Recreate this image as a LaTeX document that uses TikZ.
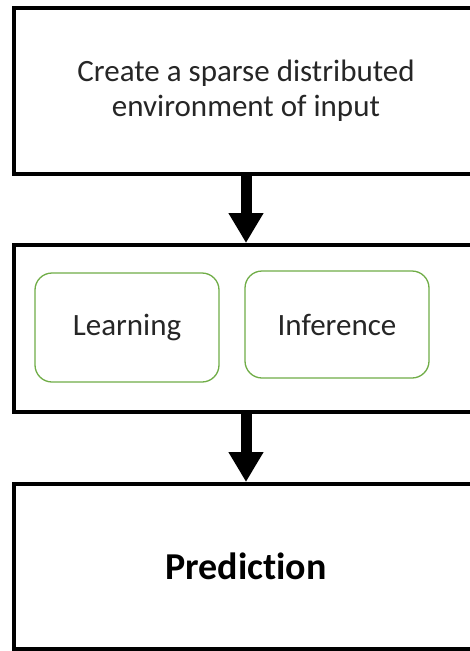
\documentclass[tikz,border=0pt]{standalone}
\usepackage{fontspec}
\setmainfont[Ligatures=NoCommon]{Carlito}
\usetikzlibrary{arrows.meta}
\definecolor{officegreen}{HTML}{70AD47}
\definecolor{textgray}{HTML}{262626}
\tikzset{
  bigbox/.style={draw=black, line width=4pt, minimum width=464pt, inner sep=0pt, align=center, text=textgray},
  subbox/.style={draw=officegreen, line width=1.3pt, rounded corners=17pt, minimum width=184pt, inner sep=0pt, text=textgray},
  flowarrow/.style={line width=11pt, -{Triangle[width=33pt,length=30pt]}}
}
\begin{document}
\begin{tikzpicture}[x=1pt,y=-1pt]
\useasboundingbox (0,0) rectangle (470,651);
\clip (0,0) rectangle (470,651);
\fill[white] (0,0) rectangle (470,651);
\node[bigbox, minimum height=166.5pt, font=\fontsize{31}{35}\selectfont] (b1) at (246,90.75) {Create a sparse distributed\\environment of input};
\node[bigbox, minimum height=167pt] (b2) at (246,328.5) {};
\node[bigbox, minimum height=164.5pt, font=\fontsize{38}{42}\selectfont\bfseries, text=black] (b3) at (246,566.25) {Prediction};
\node[subbox, minimum height=109pt, font=\fontsize{31}{35}\selectfont] (learn) at (127,327.5) {Learning};
\node[subbox, minimum height=107pt, font=\fontsize{31}{35}\selectfont] (infer) at (337,324.5) {Inference};
\draw[flowarrow] (b1.south) -- (b2.north);
\draw[flowarrow] (b2.south) -- (b3.north);
\end{tikzpicture}
\end{document}
